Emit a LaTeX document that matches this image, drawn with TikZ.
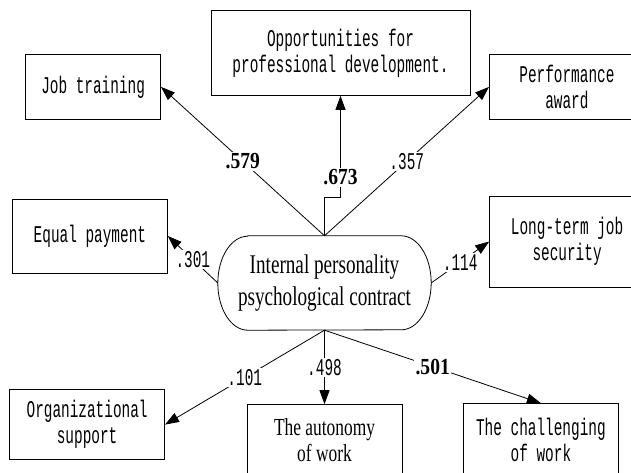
\documentclass[tikz,border=0pt]{standalone}
\usepackage{fontspec}
\newfontfamily\boxmono[FakeStretch=0.6]{Liberation Mono}
\newfontfamily\boxserif[FakeStretch=0.71]{Liberation Serif}
\newfontfamily\coefserif[FakeStretch=0.85]{Liberation Serif}
\usetikzlibrary{arrows.meta, positioning}

\begin{document}
\begin{tikzpicture}[
    node distance=1cm,
    item/.style={rectangle, draw=black, line width=0.8pt, minimum width=155pt, inner sep=0pt, align=center, font=\boxmono\fontsize{24}{26}\selectfont},
    latent/.style={rectangle, minimum width=213pt, minimum height=94pt, inner sep=0pt, align=center, font=\boxserif\fontsize{27}{32}\selectfont},
    arrow/.style={line width=0.8pt, -{Triangle[length=14pt,width=10pt]}},
    coef/.style={fill=white, inner sep=1.5pt, font=\boxmono\fontsize{24}{26}\selectfont},
    coefb/.style={fill=white, inner sep=1.5pt, font=\coefserif\bfseries\fontsize{23}{26}\selectfont}
    ]
    \useasboundingbox (0pt,0pt) rectangle (631pt,-473pt);
    \clip (0pt,0pt) rectangle (631pt,-473pt);

    % Latent variable
    \node (ipc) [latent] at (324.5pt,-283pt) {Internal personality\\psychological contract};
    \draw [line width=0.8pt] ([xshift=30pt]ipc.north west) -- ([xshift=-30pt]ipc.north east)
        arc[start angle=90, end angle=-90, x radius=30pt, y radius=47pt]
        -- ([xshift=30pt]ipc.south west)
        arc[start angle=270, end angle=90, x radius=30pt, y radius=47pt] -- cycle;

    % Upper indicators
    \node (job) [item, minimum width=135pt, minimum height=65pt, above left=116pt and 163.5pt of ipc.north] {Job training};
    \node (opp) [item, minimum width=259pt, minimum height=85pt, above=140pt of ipc, xshift=16pt] {Opportunities for\\professional development.};
    \node (perf) [item, minimum height=65pt, above right=116pt and 164.5pt of ipc.north] {Performance\\award};
    \node (equal) [item, minimum height=74pt, left=50pt of ipc, yshift=47pt] {Equal payment};
    \node (long) [item, minimum height=91pt, right=58pt of ipc, yshift=41.5pt] {Long-term job\\security};

    % Lower indicators
    \node (org) [item, minimum height=70pt, below left=59pt and 159.5pt of ipc.south] {Organizational\\support};
    \node (auto) [item, minimum height=72pt, font=\boxserif\fontsize{24.5}{26}\selectfont, below=74pt of ipc] {The autonomy\\of work};
    \node (chall) [item, minimum height=72pt, below right=73pt and 138.5pt of ipc.south] {The challenging\\of work};

    % Loadings
    \draw [arrow] (ipc.north) -- node[coefb] {.579} (job.east);
    \draw [arrow] (ipc.north) -- ++(0,38pt) -| node[coefb, pos=0.6] {.673} (opp.south);
    \draw [arrow] (ipc.north) -- node[coef] {.357} (perf.west);
    \draw [arrow] (ipc.west) -- node[coef] {.301} (equal.east);
    \draw [arrow] (ipc.east) -- node[coef] {.114} (long.west);
    \draw [arrow] (ipc.south) -- node[coef] {.101} (org.east);
    \draw [arrow] (ipc.south) -- node[coef] {.498} (auto);
    \draw [arrow] (ipc.south) -- node[coefb] {.501} (chall.north);

\end{tikzpicture}
\end{document}
